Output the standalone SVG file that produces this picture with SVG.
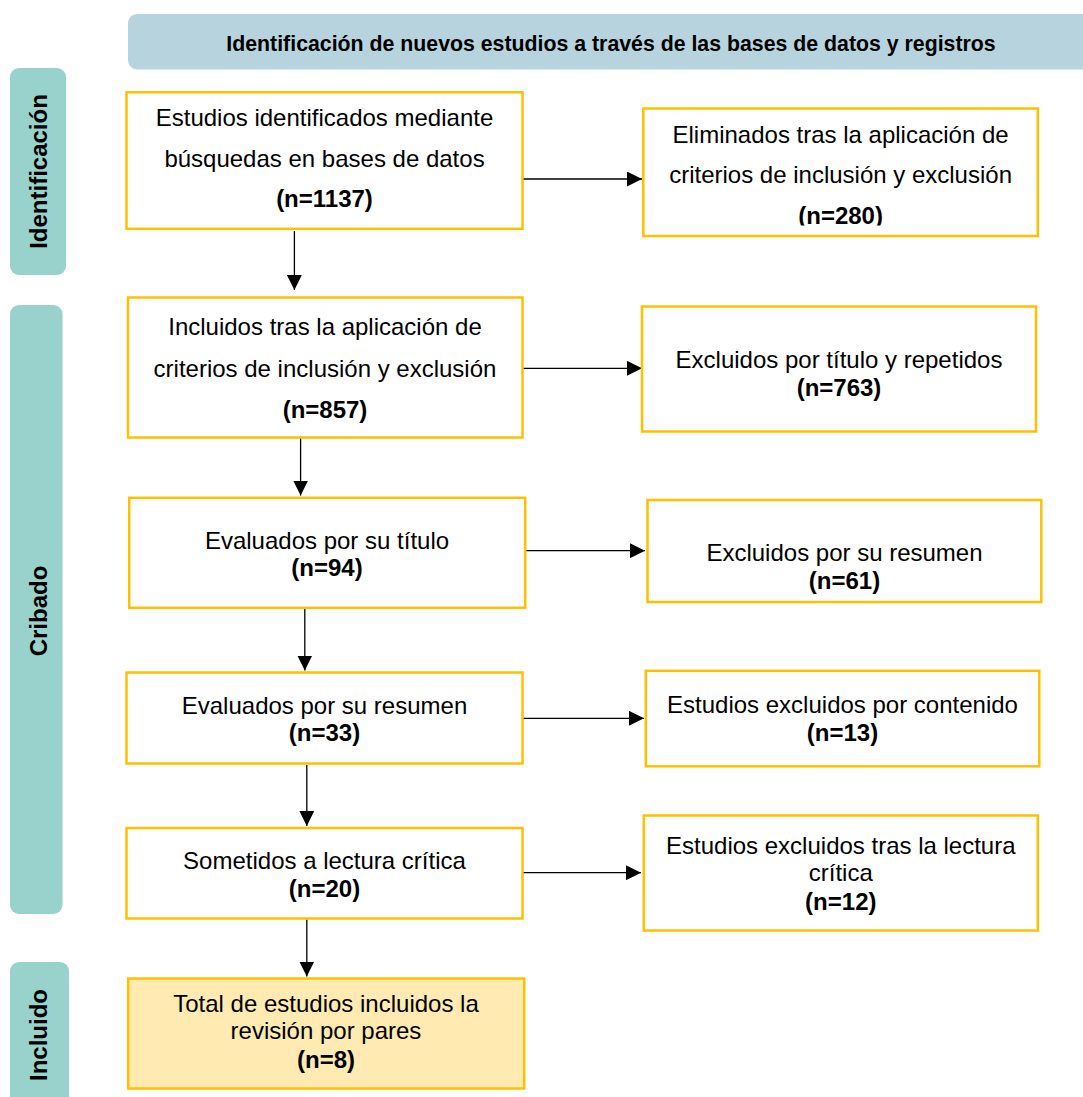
<svg xmlns="http://www.w3.org/2000/svg" width="1083" height="1097" viewBox="0 0 1083 1097">
<style>
  .box { fill: #FFFFFF; stroke: #FFC000; stroke-width: 2.5; }
  .final { fill: #FFEAB2; stroke: #FFC000; stroke-width: 2.5; }
  .side { fill: #99D2CC; }
  .hdr { fill: #B7D4DE; }
  .t { font-family: "Liberation Sans", Arial, sans-serif; font-size: 24px; fill: #000; text-anchor: middle; }
  .b { font-weight: bold; }
  .ht { font-family: "Liberation Sans", Arial, sans-serif; font-size: 21.3px; font-weight: bold; fill: #000; text-anchor: middle; }
  .st { font-family: "Liberation Sans", Arial, sans-serif; font-size: 24px; font-weight: bold; fill: #000; text-anchor: middle; }
  .c { stroke: #000; stroke-width: 1.3; fill: none; marker-end: url(#arr); }
</style>
<defs>
  <marker id="arr" viewBox="0 0 10 10" refX="10" refY="5" markerUnits="userSpaceOnUse" markerWidth="15" markerHeight="15" orient="auto">
    <path d="M0,0 L10,5 L0,10 Z" fill="#000"/>
  </marker>
  <clipPath id="clip280"><rect x="640" y="100" width="400" height="125.5"/></clipPath>
</defs>
<rect width="1083" height="1097" fill="#FFFFFF"/>

<g id="header">
  <rect class="hdr" x="128" y="14" width="970" height="55.5" rx="9"/>
  <text class="ht" x="611" y="50.5">Identificación de nuevos estudios a través de las bases de datos y registros</text>
</g>

<g id="phase-identificacion">
  <rect class="side" x="10" y="68" width="56" height="207" rx="9"/>
  <text class="st" transform="translate(46.5,171.5) rotate(-90)">Identificación</text>
</g>
<g id="phase-cribado">
  <rect class="side" x="10" y="305" width="52.5" height="609" rx="9"/>
  <text class="st" transform="translate(46.5,611) rotate(-90)">Cribado</text>
</g>
<g id="phase-incluido">
  <rect class="side" x="10" y="962" width="59" height="150" rx="9"/>
  <text class="st" transform="translate(46.5,1035) rotate(-90)">Incluido</text>
</g>

<g id="connectors">
  <line class="c" x1="294.4" y1="231" x2="294.4" y2="290"/>
  <line class="c" x1="523" y1="179" x2="642" y2="179"/>
  <line class="c" x1="300.6" y1="438" x2="300.6" y2="495.5"/>
  <line class="c" x1="523" y1="368.3" x2="642" y2="368.3"/>
  <line class="c" x1="304.8" y1="609" x2="304.8" y2="670.5"/>
  <line class="c" x1="526" y1="550.7" x2="645" y2="550.7"/>
  <line class="c" x1="306.8" y1="765" x2="306.8" y2="826"/>
  <line class="c" x1="523" y1="718.3" x2="644" y2="718.3"/>
  <line class="c" x1="306.8" y1="919.5" x2="306.8" y2="976.5"/>
  <line class="c" x1="523" y1="872.7" x2="641" y2="872.7"/>
</g>

<g id="n1137">
  <rect class="box" x="126.5" y="92.3" width="396" height="136.5"/>
  <text class="t" x="324.5" y="126.3">Estudios identificados mediante</text>
  <text class="t" x="324.5" y="166.5">búsquedas en bases de datos</text>
  <text class="t b" x="324.5" y="207">(n=1137)</text>
</g>
<g id="n280">
  <rect class="box" x="643.3" y="108.5" width="394.5" height="127.5"/>
  <text class="t" x="840.6" y="142.7">Eliminados tras la aplicación de</text>
  <text class="t" x="840.6" y="182.7">criterios de inclusión y exclusión</text>
  <text class="t b" x="840.6" y="223.5" clip-path="url(#clip280)">(n=280)</text>
</g>
<g id="n857">
  <rect class="box" x="128" y="297.5" width="394.5" height="140"/>
  <text class="t" x="325" y="335">Incluidos tras la aplicación de</text>
  <text class="t" x="325" y="377.3">criterios de inclusión y exclusión</text>
  <text class="t b" x="325" y="418.3">(n=857)</text>
</g>
<g id="n763">
  <rect class="box" x="642" y="306.5" width="394" height="125"/>
  <text class="t" x="839" y="367.7">Excluidos por título y repetidos</text>
  <text class="t b" x="839" y="395.7">(n=763)</text>
</g>
<g id="n94">
  <rect class="box" x="129.2" y="497.8" width="396" height="110"/>
  <text class="t" x="327" y="548.7">Evaluados por su título</text>
  <text class="t b" x="327" y="576">(n=94)</text>
</g>
<g id="n61">
  <rect class="box" x="647.5" y="500" width="393.8" height="102"/>
  <text class="t" x="844.5" y="561">Excluidos por su resumen</text>
  <text class="t b" x="844.5" y="589">(n=61)</text>
</g>
<g id="n33">
  <rect class="box" x="126.5" y="672.5" width="396" height="91"/>
  <text class="t" x="324.5" y="714">Evaluados por su resumen</text>
  <text class="t b" x="324.5" y="741">(n=33)</text>
</g>
<g id="n13">
  <rect class="box" x="645.8" y="670.8" width="393.5" height="95.5"/>
  <text class="t" x="842.5" y="713.3">Estudios excluidos por contenido</text>
  <text class="t b" x="842.5" y="741">(n=13)</text>
</g>
<g id="n20">
  <rect class="box" x="126.5" y="828" width="396" height="90.5"/>
  <text class="t" x="324.5" y="868.7">Sometidos a lectura crítica</text>
  <text class="t b" x="324.5" y="896.7">(n=20)</text>
</g>
<g id="n12">
  <rect class="box" x="643.8" y="815.5" width="394" height="115"/>
  <text class="t" x="840.8" y="854.3">Estudios excluidos tras la lectura</text>
  <text class="t" x="840.8" y="880.7">crítica</text>
  <text class="t b" x="840.8" y="910">(n=12)</text>
</g>
<g id="n8">
  <rect class="final" x="128.2" y="978.5" width="396" height="110"/>
  <text class="t" x="326" y="1011.7">Total de estudios incluidos la</text>
  <text class="t" x="326" y="1039.3">revisión por pares</text>
  <text class="t b" x="326" y="1068.3">(n=8)</text>
</g>
</svg>
